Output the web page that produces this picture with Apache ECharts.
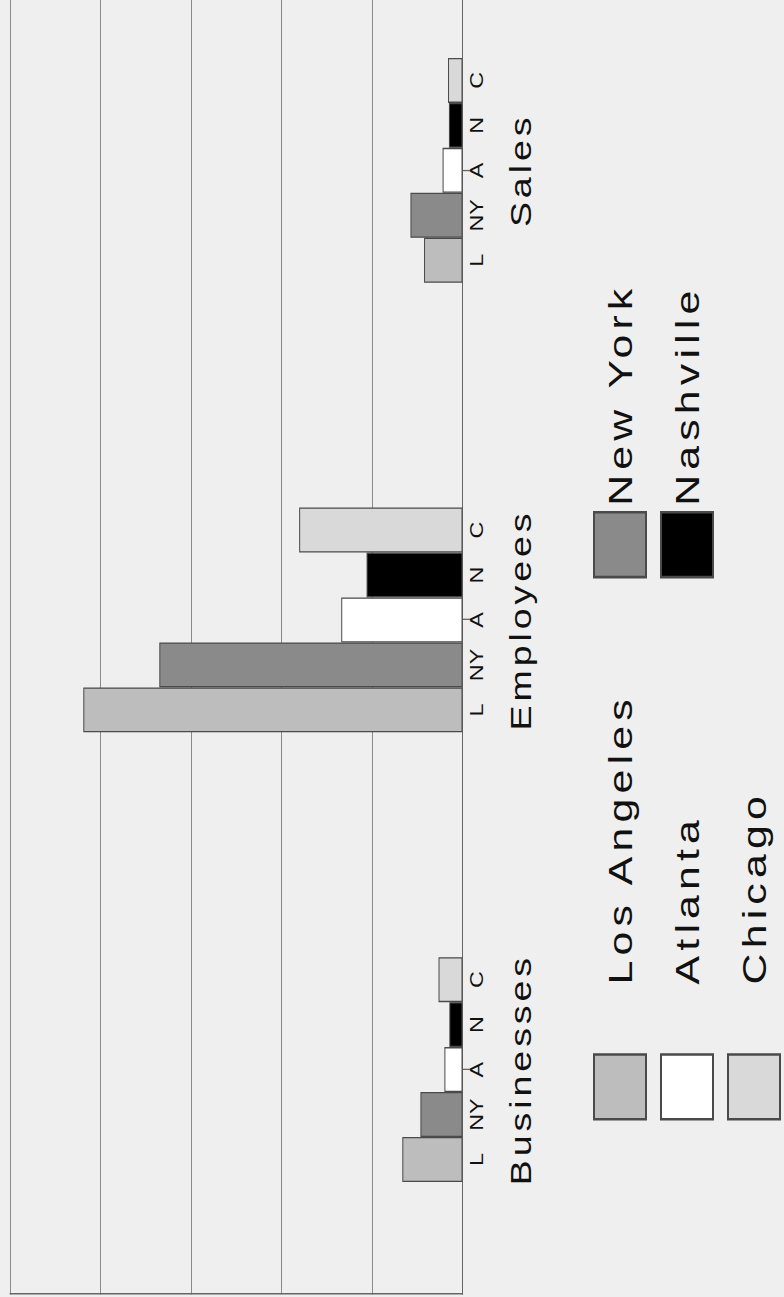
<!DOCTYPE html>
<html>
<head>
<meta charset="utf-8">
<script src="https://cdn.jsdelivr.net/npm/echarts@6/dist/echarts.min.js"></script>
<style>
  html, body { margin: 0; padding: 0; width: 784px; height: 1297px; overflow: hidden; background: #efefef; }
  #chart {
    position: absolute; left: 0; top: 0;
    width: 1045px; height: 784px;
    transform-origin: 0 0;
    transform: translateY(1297px) rotate(-90deg) scaleX(1.297);
  }
  #chart text[style*="29px"] { letter-spacing: 3px; }
  #chart text[style*="33px"] { letter-spacing: 4px; }
</style>
</head>
<body>
<div id="chart"></div>
<script>
// ---- data ----
const categories = ['Businesses', 'Employees', 'Sales'];
const cityNames = ['Los Angeles', 'New York', 'Atlanta', 'Nashville', 'Chicago'];
const cityCodes = ['L', 'NY', 'A', 'N', 'C'];
const losAngeles = [13.3, 83.8, 8.5];
const newYork = [9.3, 67.0, 11.5];
const atlanta = [4.0, 26.8, 4.4];
const nashville = [2.9, 21.2, 3.0];
const chicago = [5.3, 36.1, 3.2];
const valueMin = 0, valueMax = 100, valueStep = 20;

// ---- styles ----
const seriesValues = [losAngeles, newYork, atlanta, nashville, chicago];
const cityColors = ['#bdbdbd', '#8a8a8a', '#ffffff', '#000000', '#d9d9d9'];
const FONT = "'Liberation Sans', Arial, sans-serif";

const chart = echarts.init(document.getElementById('chart'), null, { renderer: 'svg' });

const series = cityNames.map((name, i) => ({
  name: name,
  type: 'bar',
  data: seriesValues[i],
  barGap: '0%',
  barCategoryGap: '50%',
  itemStyle: { color: cityColors[i], borderColor: '#4a4a4a', borderWidth: 1 },
  label: {
    show: true,
    position: 'bottom',
    distance: 5,
    formatter: () => cityCodes[i],
    fontFamily: FONT,
    fontSize: 18,
    color: '#111'
  },
  emphasis: { disabled: true },
  animation: false
}));

const legendText = { fontFamily: FONT, fontSize: 33, color: '#111', overflow: 'none', width: 400 };

chart.setOption({
  backgroundColor: 'transparent',
  animation: false,
  grid: { left: 2, width: 1040, top: 10, bottom: 321.5, containLabel: false },
  xAxis: {
    type: 'category',
    data: categories,
    position: 'bottom',
    axisLine: { show: true, lineStyle: { color: '#666', width: 1 } },
    axisTick: { show: true, alignWithLabel: true, length: 8, lineStyle: { color: '#666' } },
    axisLabel: { margin: 44, fontFamily: FONT, fontSize: 29, color: '#111' },
    splitLine: { show: false }
  },
  yAxis: {
    type: 'value',
    min: valueMin, max: valueMax, interval: valueStep,
    axisLine: { show: true, lineStyle: { color: '#666', width: 1 } },
    axisTick: { show: false },
    axisLabel: { show: false },
    splitLine: { show: true, lineStyle: { color: '#8a8a8a', width: 1 } }
  },
  legend: [
    {
      data: [cityNames[0], cityNames[2], cityNames[4]],
      orient: 'vertical',
      left: 136, top: 593, padding: 0,
      width: 500, height: 190,
      itemWidth: 50, itemHeight: 52, itemGap: 13,
      icon: 'rect',
      selectedMode: false,
      textStyle: Object.assign({ padding: [0, 0, 0, 49] }, legendText)
    },
    {
      data: [cityNames[1], cityNames[3]],
      orient: 'vertical',
      left: 554, top: 593, padding: 0,
      width: 400, height: 190,
      itemWidth: 50, itemHeight: 52, itemGap: 13,
      icon: 'rect',
      selectedMode: false,
      textStyle: legendText
    }
  ],
  series: series
});
</script>
</body>
</html>
